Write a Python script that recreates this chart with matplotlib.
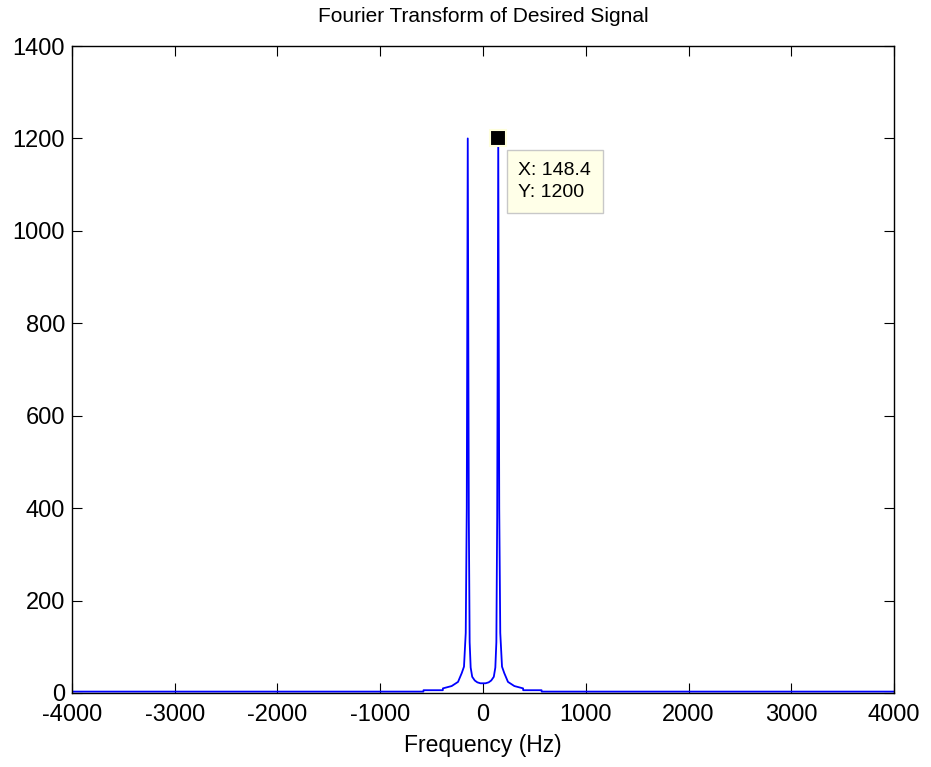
import matplotlib
matplotlib.use('Agg')
import matplotlib.pyplot as plt

plt.rcParams['font.family'] = ['Liberation Sans', 'DejaVu Sans']
plt.rcParams['axes.unicode_minus'] = False

# magnitude spectrum
freq_hz = [-4000, -580, -579, -391, -390, -305, -243, -207, -185, -168, -158,
           -148.4, -138, -130, -120, -105, -80, -55, -25, 0,
           25, 55, 80, 105, 120, 130, 138, 148.4,
           158, 168, 185, 207, 243, 305, 390, 391, 570, 571, 4000]
magnitude = [3, 3, 6, 6, 10, 15, 24, 43, 57, 130, 400,
             1200, 380, 110, 55, 35, 27, 23, 21, 21,
             21, 23, 27, 35, 55, 110, 380, 1200,
             400, 130, 57, 43, 24, 15, 10, 6, 6, 3, 3]

tip_x = 148.4
tip_y = 1200

x_ticks = [-4000, -3000, -2000, -1000, 0, 1000, 2000, 3000, 4000]
y_ticks = [0, 200, 400, 600, 800, 1000, 1200, 1400]

fig = plt.figure(figsize=(9.31, 7.67), dpi=100)
ax = fig.add_axes([0.0773, 0.0965, 0.8830, 0.8435])

ax.plot(freq_hz, magnitude, color='blue', linewidth=1.3)

# data tip
ax.plot([tip_x], [tip_y], marker='s', markersize=11, color='black',
        markeredgecolor='#ffffdd', markeredgewidth=1.5, zorder=5)
ax.annotate('X: %.1f\nY: %d' % (tip_x, tip_y), xy=(tip_x, tip_y),
            xytext=(14.5, -31), textcoords='offset points', fontsize=14,
            va='center', ha='left', linespacing=1.45,
            bbox=dict(boxstyle='square,pad=0.6', fc='#ffffe8', ec='#c8c8c8', lw=1))

ax.set_xlim(-4000, 4000)
ax.set_ylim(0, 1400)
ax.set_xticks(x_ticks)
ax.set_yticks(y_ticks)
ax.tick_params(direction='in', length=7, labelsize=17, top=True, right=True)
ax.tick_params(axis='x', pad=8)
ax.tick_params(axis='y', pad=5)
for s in ax.spines.values():
    s.set_linewidth(1.0)

ax.set_title('Fourier Transform of Desired Signal', fontsize=15, pad=17)
ax.set_xlabel('Frequency (Hz)', fontsize=16.5, labelpad=6)

fig.savefig('out.png', dpi=100)
